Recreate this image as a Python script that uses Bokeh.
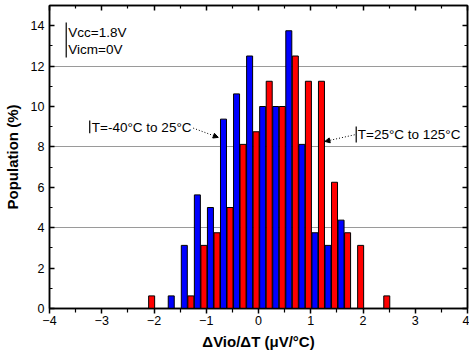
from bokeh.plotting import figure
from bokeh.models import (LinearAxis, FixedTicker, Range1d, Label, Arrow, NormalHead)
from bokeh.embed import file_html
from bokeh.resources import INLINE

# ---- data ----
blue_centers = [-1.67, -1.42, -1.17, -0.92, -0.67, -0.42, -0.17, 0.08, 0.33, 0.58, 0.83, 1.08, 1.33, 1.58]
blue_pop = [0.625, 3.125, 5.625, 5.0, 9.375, 10.625, 12.5, 10.0, 10.0, 13.75, 8.125, 3.75, 3.125, 4.375]
red_centers = [-2.045, -1.295, -1.045, -0.795, -0.545, -0.295, -0.045, 0.205, 0.455, 0.705, 0.955,
               1.205, 1.455, 1.705, 1.955, 2.455]
red_pop = [0.625, 0.625, 3.125, 3.75, 5.0, 8.125, 8.75, 11.25, 10.0, 12.5, 11.25, 11.25, 6.25, 3.75,
           3.125, 0.625]
x_ticks = [-4, -3, -2, -1, 0, 1, 2, 3, 4]
x_minor = [-3.5, -2.5, -1.5, -0.5, 0.5, 1.5, 2.5, 3.5]
y_ticks = [0, 2, 4, 6, 8, 10, 12, 14]
y_minor = [1, 3, 5, 7, 9, 11, 13]
grid_lines = [4, 8, 12]

FONT = "Liberation Sans"

p = figure(width=469, height=359, output_backend="svg", toolbar_location=None,
           x_range=Range1d(-4, 4), y_range=Range1d(0, 15),
           min_border_left=49, min_border_right=2, min_border_top=5, min_border_bottom=51,
           x_axis_location=None, y_axis_location=None)
p.outline_line_color = "black"
p.outline_line_width = 1.5
p.background_fill_color = "white"
p.border_fill_color = "white"

# grid
p.xgrid.visible = False
p.ygrid.ticker = FixedTicker(ticks=grid_lines)
p.ygrid.grid_line_color = "#9a9a9a"
p.ygrid.grid_line_width = 1.2

# bars
p.vbar(x=blue_centers, top=blue_pop, width=0.115, bottom=0,
       fill_color="#0000ff", line_color="black", line_width=1)
p.vbar(x=red_centers, top=red_pop, width=0.115, bottom=0,
       fill_color="#ff0000", line_color="black", line_width=1)

def mk_axis(ticks, minor, labels=True):
    ax = LinearAxis(ticker=FixedTicker(ticks=ticks, minor_ticks=minor))
    ax.axis_line_width = 1.5
    ax.major_tick_line_width = 1.5
    ax.minor_tick_line_width = 1.2
    ax.major_label_text_font = FONT
    ax.major_label_text_font_size = "12.5px"
    ax.major_label_text_color = "black"
    ax.axis_label_text_font = FONT
    ax.axis_label_text_font_style = "bold"
    ax.axis_label_text_font_size = "15px"
    ax.axis_label_text_color = "black"
    if not labels:
        ax.major_label_overrides = {t: "" for t in ticks}
        ax.major_label_standoff = 0
    return ax

# bottom
bx = mk_axis(x_ticks, x_minor)
bx.major_tick_in = 0
bx.major_tick_out = 5
bx.minor_tick_in = 0
bx.minor_tick_out = 4
bx.major_label_standoff = 2
bx.axis_label = "ΔVio/ΔT (μV/°C)"
bx.axis_label_standoff = 5
p.add_layout(bx, "below")

# left
ly = mk_axis(y_ticks, y_minor)
ly.major_tick_in = 5
ly.major_tick_out = 0
ly.minor_tick_in = 3
ly.minor_tick_out = 0
ly.major_label_standoff = 5
ly.axis_label = "Population (%)"
ly.axis_label_standoff = 7
p.add_layout(ly, "left")

# top
tx = mk_axis(x_ticks, x_minor, labels=False)
tx.major_tick_in = 5
tx.major_tick_out = 0
tx.minor_tick_in = 3
tx.minor_tick_out = 0
p.add_layout(tx, "above")

# right
ry = mk_axis(y_ticks, y_minor, labels=False)
ry.major_tick_in = 5
ry.major_tick_out = 0
ry.minor_tick_in = 3
ry.minor_tick_out = 0
p.add_layout(ry, "right")

# annotations
def txt(x, y, s):
    p.add_layout(Label(x=x, y=y, text=s, text_font=FONT, text_font_size="13.5px",
                       text_color="black", text_baseline="middle", text_align="left"))

p.segment(x0=[-3.68, -3.23, 1.87], y0=[14.16, 9.31, 9.01],
          x1=[-3.68, -3.23, 1.87], y1=[12.43, 8.67, 8.22], line_color="black", line_width=1.2)
txt(-3.64, 13.67, "Vcc=1.8V")
txt(-3.64, 12.83, "Vicm=0V")
txt(-3.19, 8.98, "T=-40°C to 25°C")
txt(1.90, 8.6, "T=25°C to 125°C")

p.add_layout(Arrow(x_start=-1.25, y_start=8.93, x_end=-0.77, y_end=8.47,
                   line_color="black", line_width=1, line_dash="1 2",
                   end=NormalHead(size=5, fill_color="black", line_color="black")))
p.add_layout(Arrow(x_start=1.84, y_start=8.6, x_end=1.27, y_end=8.27,
                   line_color="black", line_width=1, line_dash="1 2",
                   end=NormalHead(size=5, fill_color="black", line_color="black")))

open("out.html", "w").write(file_html(p, INLINE))
